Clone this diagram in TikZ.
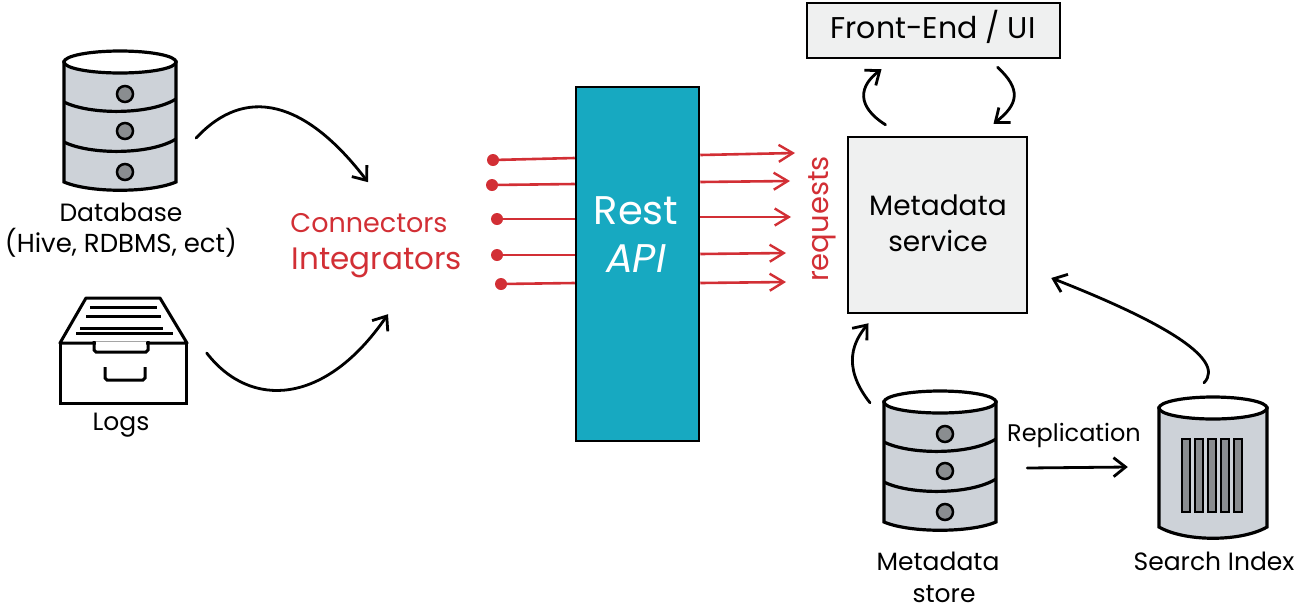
\documentclass[tikz,border=0pt]{standalone}
\usepackage{fontspec}
\setmainfont{Poppins}
\usetikzlibrary{arrows.meta}
\definecolor{apiblue}{HTML}{17A9C1}
\definecolor{drumgray}{HTML}{CDD2D8}
\definecolor{knobgray}{HTML}{8A8D90}
\definecolor{boxgray}{HTML}{EFF0F0}
\definecolor{reqred}{HTML}{D22F35}
\tikzset{
  lbl/.style={font=\fontsize{25}{27}\selectfont, inner sep=0pt},
  boxlbl/.style={font=\fontsize{28}{30}\selectfont, inner sep=0pt},
  redlbl/.style={text=reqred, font=\fontsize{27}{29}\selectfont, inner sep=0pt},
  apilbl/.style={text=white, font=\fontsize{40}{42}\selectfont, inner sep=0pt},
  flow/.style={-{Straight Barb[length=12pt,width=19pt,line width=2.8pt]}, line width=2.8pt, black, line cap=round},
  reqin/.style={line width=2.6pt, reqred},
  reqout/.style={-{Straight Barb[length=14pt,width=17pt,line width=2.4pt]}, line width=2.6pt, reqred},
  reqdot/.style={circle, fill=reqred, minimum size=12pt, inner sep=0pt},
  panel/.style={draw=black, line width=2.5pt, fill=boxgray},
  hidden/.style={inner sep=0pt},
  pics/dbstack/.style={code={
    \filldraw[fill=drumgray, draw=black, line width=3.2pt] (-56,0) -- (-56,120) .. controls (-30,131) and (30,131) .. (56,120) -- (56,0) -- cycle;
    \filldraw[fill=white, draw=black, line width=3.2pt] (0,0) ellipse [x radius=56, y radius=11];
    \draw[line width=3.2pt] (-56,40) .. controls (-30,53) and (30,53) .. (56,37);
    \draw[line width=3.2pt] (-56,80) .. controls (-30,93) and (30,93) .. (56,77);
    \foreach \ky in {32,69,110}
      \filldraw[fill=knobgray, draw=black, line width=2.5pt] (5,\ky) circle (8);
  }}
}
\begin{document}
\begin{tikzpicture}[x=1pt,y=-1pt]
  \useasboundingbox (0,0) rectangle (1300,614);

  % sources
  \pic at (120,62) {dbstack};
  \node[hidden, minimum width=112pt, minimum height=130pt] (database) at (120,125) {};
  \node[lbl] (dblabel) at (121,212) {Database};
  \node[lbl, font=\fontsize{26}{28}\selectfont] (dbtypes) at (121,243) {(Hive, RDBMS, ect)};

  \node[hidden, minimum width=127pt, minimum height=105pt] (logs) at (123,351) {};
  \draw[line width=3pt, line join=round] (60,343) -- (86,298) -- (160,298) -- (187,343) -- cycle;
  \draw[line width=3pt] (60,343) -- (60,403) -- (186,403) -- (186,343);
  \foreach \ly/\la/\lb in {307/90/157, 316/86/161, 328/80/163, 333/76/173}
    \draw[line width=3pt] (\la,\ly) -- (\lb,\ly);
  \draw[line width=3pt] (94,341) -- (94,350) -- (96,352) -- (146,352) -- (148,350) -- (148,341);
  \draw[white, line width=3pt] (96,343) -- (146,343);
  \draw[line width=3pt] (105,367) -- (105,378) -- (107,380) -- (143,380) -- (145,378) -- (145,367);
  \node[lbl] (logslabel) at (121,425) {Logs};

  % connectors text
  \node[redlbl] (connectors) at (369,223) {Connectors};
  \node[redlbl, font=\fontsize{31}{33}\selectfont] (integrators) at (377,263) {Integrators};
  \draw[flow] ([shift={(20,13)}]database.east) .. controls ([shift={(69,-40)}]database.east) and ([shift={(129,-25)}]database.east) .. ([shift={(-1,-31)}]connectors.north);
  \draw[flow] ([shift={(20,2)}]logs.east) .. controls ([shift={(64,59)}]logs.east) and ([shift={(139,54)}]logs.east) .. ([shift={(11,36)}]integrators.south);

  % rest api
  \node[draw=black, line width=2.5pt, fill=apiblue, minimum width=123pt, minimum height=354pt] (api) at (637.5,264) {};
  \node[apilbl] (rest) at (636,211) {Rest};
  \node[apilbl, font=\fontsize{40}{42}\selectfont\itshape] (apitext) at (636,259) {API};

  \foreach \n/\dx/\dy/\oy in {1/493/160/158, 2/492/185/184, 3/497/219/219, 4/497/255/255, 5/501/284/283} {
    \node[reqdot] (in\n) at (\dx,\dy) {};
    \draw[reqin] (in\n.center) -- (api.west |- 0,\oy);
  }
  \foreach \n/\oy/\ex/\ey in {1/155/795/153, 2/182/790/181, 3/217/791/217, 4/254/786/253, 5/283/786/282} {
    \coordinate (out\n) at (\ex,\ey);
    \draw[reqout] (api.east |- 0,\oy) -- (out\n);
  }
  \node[redlbl, font=\fontsize{29}{31}\selectfont, rotate=90] (requests) at (822,219) {requests};

  % metadata side
  \node[panel, minimum width=253pt, minimum height=55pt] (frontend) at (933.5,30.5) {};
  \node[boxlbl, font=\fontsize{30}{32}\selectfont] (fetext) at (933,27) {Front-End / UI};
  \node[panel, minimum width=179pt, minimum height=176pt] (metadata) at (937.5,225) {};
  \node[boxlbl] (mdtext1) at (938,205) {Metadata};
  \node[boxlbl] (mdtext2) at (938,241) {service};

  \draw[flow] ([shift={(-52,-11)}]metadata.north) .. controls ([shift={(-82,-30)}]metadata.north) and ([shift={(-78,-50)}]metadata.north) .. ([shift={(-52,10)}]frontend.south);
  \draw[flow] ([shift={(64,8)}]frontend.south) .. controls ([shift={(88,30)}]frontend.south) and ([shift={(85,45)}]frontend.south) .. ([shift={(56,-12)}]metadata.north);

  \pic at (940,402) {dbstack};
  \node[hidden, minimum width=112pt, minimum height=130pt] (mstore) at (940,465) {};
  \node[lbl] (mslabel1) at (938,561) {Metadata};
  \node[lbl] (mslabel2) at (944,594) {store};
  \draw[flow] ([shift={(-70,3)}]mstore.north) .. controls ([shift={(-100,-35)}]mstore.north) and ([shift={(-85,-60)}]mstore.north) .. ([shift={(-69,9)}]metadata.south);

  % search index
  \node[hidden, minimum width=108pt, minimum height=130pt] (search) at (1213,473) {};
  \filldraw[fill=drumgray, draw=black, line width=3.2pt] (1159,408) -- (1159,527) .. controls (1185,542) and (1241,542) .. (1267,527) -- (1267,408) -- cycle;
  \filldraw[fill=white, draw=black, line width=3.2pt] (1213,408) ellipse [x radius=54, y radius=11];
  \foreach \bx in {1182,1195,1208,1221,1234}
    \filldraw[fill=knobgray, draw=black, line width=2.5pt] (\bx,439) rectangle ++(8,73);
  \node[lbl] (silabel) at (1214,561) {Search Index};
  \draw[flow] ([shift={(-9,-25)}]search.north) .. controls ([shift={(15,-50)}]search.north) and ([shift={(-60,-90)}]search.north) .. ([shift={(23,53)}]metadata.east);

  \node[lbl, font=\fontsize{24}{26}\selectfont] (replabel) at (1074,435) {Replication};
  \draw[flow] ([shift={(31,3)}]mstore.east) -- ([shift={(-31,-6)}]search.west);
\end{tikzpicture}
\end{document}
